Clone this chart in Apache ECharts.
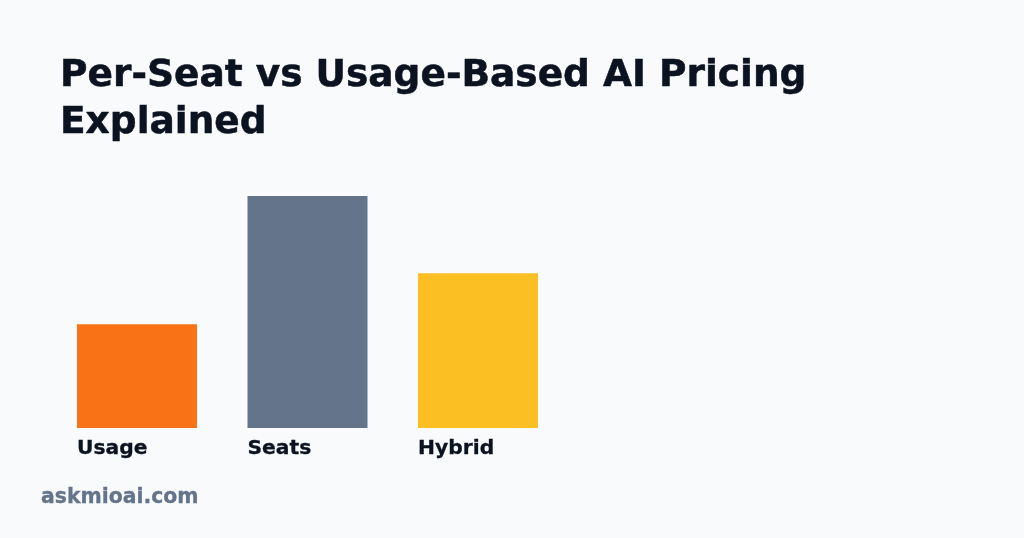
<!DOCTYPE html>
<html>
<head>
<meta charset="utf-8">
<style>
html, body { margin: 0; padding: 0; background: #f8fafc; }
#chart { width: 1024px; height: 538px; }
</style>
<script src="https://cdn.jsdelivr.net/npm/echarts@6/dist/echarts.min.js"></script>
</head>
<body>
<div id="chart"></div>
<script>
var categories = ['Usage', 'Seats', 'Hybrid'];
var values = [44.7, 100, 66.7];
var colors = ['#f97316', '#64748b', '#fbbf24'];

var fontFamily = '"DejaVu Sans", sans-serif';
var chart = echarts.init(document.getElementById('chart'));

chart.setOption({
    animation: false,
    backgroundColor: '#f8fafc',
    title: [
        {
            text: 'Per-Seat vs Usage-Based AI Pricing\nExplained',
            left: 55,
            top: 48,
            textStyle: { fontFamily: fontFamily, fontSize: 37.5, fontWeight: 'bold', color: '#0b1220', lineHeight: 47, textBorderColor: '#0b1220', textBorderWidth: 0.5 }
        },
        {
            text: 'askmioai.com',
            left: 36,
            top: 483,
            textStyle: { fontFamily: fontFamily, fontSize: 20.4, fontWeight: 'bold', color: '#64748b', textBorderColor: '#64748b', textBorderWidth: 0.3 }
        }
    ],
    grid: { left: 51.75, top: 196, width: 511.5, height: 232, containLabel: false },
    xAxis: {
        type: 'category',
        data: categories,
        axisLine: { show: false },
        axisTick: { show: false },
        axisLabel: {
            show: true,
            margin: 11,
            color: '#0b1220',
            fontFamily: fontFamily,
            fontSize: 20.3,
            fontWeight: 'bold',
            align: 'left',
            padding: [0, 0, 0, -60],
            textBorderColor: '#0b1220',
            textBorderWidth: 0.3
        }
    },
    yAxis: {
        type: 'value',
        min: 0,
        max: 100,
        show: false
    },
    series: [{
        type: 'bar',
        barWidth: 120,
        data: values.map(function (v, i) {
            return { value: v, itemStyle: { color: colors[i] } };
        })
    }]
});
</script>
</body>
</html>
